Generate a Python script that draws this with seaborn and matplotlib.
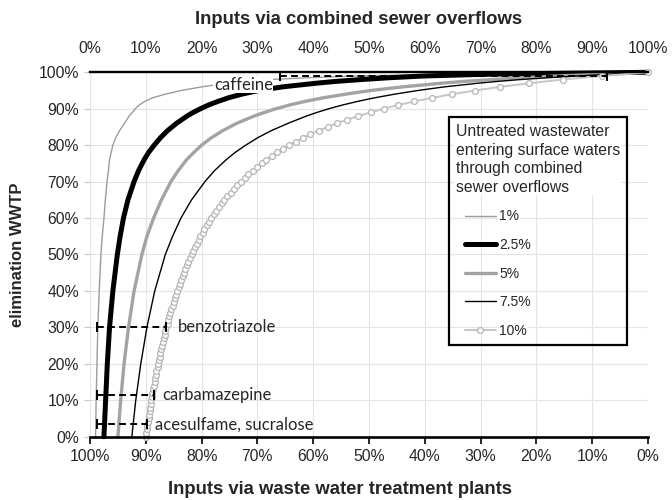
import matplotlib
matplotlib.use("Agg")
import matplotlib.pyplot as plt
from matplotlib.lines import Line2D
from matplotlib.legend_handler import HandlerLine2D
import seaborn as sns
import pandas as pd

# ---------------- data ----------------
# x = share of inputs via combined sewer overflows (%), y = elimination in WWTP (%)
elim_levels = [0, 10, 20, 30, 40, 50, 55, 60, 65, 70, 73, 76, 78, 80, 82, 84, 86, 88, 89, 90,
               91, 92, 93, 94, 95, 96, 97, 97.5, 98, 98.5, 99, 99.5, 100]
cso_1 = [1.0, 1.1, 1.25, 1.4, 1.65, 1.95, 2.2, 2.5, 2.75, 3.05, 3.3, 3.5, 3.8, 4.1, 4.6, 5.3, 6.2, 7.0, 7.6, 8.1,
         8.8, 9.8, 11.2, 13.5, 16.3, 20.0, 24.5, 27.5, 32.0, 39.0, 48.0, 65.0, 100.0]
cso_2_5 = [2.5, 2.8, 3.1, 3.5, 4.1, 4.9, 5.4, 6.0, 6.8, 7.9, 8.7, 9.7, 10.5, 11.5, 12.6, 13.9, 15.5, 17.4, 18.5, 19.8,
           21.2, 22.9, 24.8, 27.2, 30.2, 34.5, 40.5, 44.0, 48.5, 53.5, 60.0, 72.0, 100.0]
cso_5 = [5.0, 5.5, 6.1, 6.9, 7.9, 9.3, 10.2, 11.4, 12.8, 14.5, 15.8, 17.3, 18.6, 20.0, 21.7, 23.8, 26.3, 29.4, 31.3, 33.3,
         35.7, 38.5, 41.8, 45.8, 50.3, 56.0, 63.0, 67.0, 72.0, 77.5, 84.0, 91.5, 100.0]
cso_7_5 = [7.5, 8.2, 9.1, 10.2, 11.6, 13.5, 14.8, 16.3, 18.2, 20.6, 22.3, 24.4, 26.0, 27.9, 30.0, 32.5, 35.5, 38.8, 40.7, 42.8,
           45.2, 47.9, 51.0, 54.6, 58.7, 63.5, 69.5, 73.0, 77.0, 82.0, 87.5, 93.5, 100.0]

elim_10 = [0, 1, 2, 3, 4, 5, 6, 7, 8, 9,
           10, 11, 12, 13, 14, 15, 16, 17, 18, 19,
           20, 21, 22, 23, 24, 25, 26, 27, 28, 29,
           30, 31, 32, 33, 34, 35, 36, 37, 38, 39,
           40, 41, 42, 43, 44, 45, 46, 47, 48, 49,
           50, 51, 52, 53, 54, 55, 56, 57, 58, 59,
           60, 61, 62, 63, 64, 65, 66, 67, 68, 69,
           70, 71, 72, 73, 74, 75, 76, 77, 78, 79,
           80, 81, 82, 83, 84, 85, 86, 87, 88, 89,
           90, 91, 92, 93, 94, 95, 96, 97, 98, 99, 100]
cso_10 = [10.0, 10.1, 10.2, 10.3, 10.4, 10.5, 10.6, 10.7, 10.8, 10.9,
          11.0, 11.1, 11.2, 11.3, 11.4, 11.6, 11.7, 11.8, 11.9, 12.1,
          12.2, 12.3, 12.5, 12.6, 12.8, 12.9, 13.1, 13.2, 13.4, 13.5,
          13.7, 13.9, 14.0, 14.2, 14.4, 14.6, 14.8, 15.0, 15.2, 15.4,
          15.6, 15.9, 16.1, 16.3, 16.6, 16.8, 17.1, 17.3, 17.6, 17.9,
          18.2, 18.5, 18.8, 19.1, 19.5, 19.8, 20.2, 20.5, 20.9, 21.3,
          21.7, 22.2, 22.6, 23.1, 23.6, 24.1, 24.6, 25.2, 25.8, 26.4,
          27.0, 27.7, 28.4, 29.2, 29.9, 30.8, 31.6, 32.6, 33.6, 34.6,
          35.7, 36.9, 38.2, 39.5, 41.0, 42.6, 44.2, 46.1, 48.1, 50.3,
          52.6, 55.2, 58.1, 61.3, 64.9, 69.0, 73.5, 78.7, 84.7, 91.7, 100.0]

series_labels = ["1%", "2.5%", "5%", "7.5%", "10%"]

# compounds: elimination level and range of CSO share
compounds = ["caffeine", "benzotriazole", "carbamazepine", "acesulfame, sucralose"]
compound_elim = [99.1, 30.0, 11.5, 3.4]
compound_lo = [34.0, 1.2, 1.2, 1.2]
compound_hi = [92.6, 13.7, 11.5, 10.3]

ticks = [0, 10, 20, 30, 40, 50, 60, 70, 80, 90, 100]
top_labels = ["0%", "10%", "20%", "30%", "40%", "50%", "60%", "70%", "80%", "90%", "100%"]
bottom_labels = ["100%", "90%", "80%", "70%", "60%", "50%", "40%", "30%", "20%", "10%", "0%"]
y_labels = ["0%", "10%", "20%", "30%", "40%", "50%", "60%", "70%", "80%", "90%", "100%"]

# ---------------- style ----------------
sns.set_theme(style="white")
plt.rcParams["font.family"] = ["Liberation Sans", "DejaVu Sans"]

fig = plt.figure(figsize=(6.72, 5.0), dpi=100)
ax = fig.add_axes([90 / 672, 1 - 436.7 / 500, 558 / 672, 364.4 / 500])

styles = [
    dict(color="#9c9c9c", lw=1.0),
    dict(color="black", lw=3.6),
    dict(color="#a3a3a3", lw=2.4),
    dict(color="black", lw=1.0),
    dict(color="#c6c6c6", lw=1.4, marker="o", ms=4.2, mfc="white", mec="#b5b5b5", mew=0.9),
]
all_elim = [elim_levels, elim_levels, elim_levels, elim_levels, elim_10]
all_cso = [cso_1, cso_2_5, cso_5, cso_7_5, cso_10]

for lab, e, c, kw in zip(series_labels, all_elim, all_cso, styles):
    df = pd.DataFrame({"cso": c, "elim": e})
    sns.lineplot(data=df, x="cso", y="elim", ax=ax, sort=False, estimator=None,
                 label=lab, clip_on=False, solid_joinstyle="round", **kw)

# error bars for compounds
for name, ev, lo, hi in zip(compounds, compound_elim, compound_lo, compound_hi):
    eb = ax.errorbar(x=[(lo + hi) / 2], y=[ev], xerr=[(hi - lo) / 2], fmt="none",
                     ecolor="black", elinewidth=1.4, capsize=3.4, capthick=1.4, zorder=6)
    eb[2][0].set_linestyle((0, (3.5, 2.2)))

ann_font = ["Lato", "DejaVu Sans"]
offsets = [(-5, -6.5), (8, 0), (6, 0), (5.5, 0)]
for i, (name, ev, lo, hi) in enumerate(zip(compounds, compound_elim, compound_lo, compound_hi)):
    if i == 0:
        ax.annotate(name, xy=(lo, ev), xytext=offsets[i], textcoords="offset points",
                    ha="right", va="center", fontsize=12, family=ann_font, zorder=7,
                    bbox=dict(fc="white", ec="none", pad=0.5))
    else:
        ax.annotate(name, xy=(hi, ev), xytext=offsets[i], textcoords="offset points",
                    ha="left", va="center", fontsize=12, family=ann_font, zorder=7)

ax.set_xlim(0, 100)
ax.set_ylim(0, 100)
ax.set_xticks(ticks)
ax.set_xticklabels(bottom_labels)
ax.set_yticks(ticks)
ax.set_yticklabels(y_labels)
ax.set_xlabel("")
ax.set_ylabel("")
ax.grid(True, color="#e4e4e4", lw=0.8)
ax.set_axisbelow(True)

for s in ["left", "right"]:
    ax.spines[s].set_visible(False)
ax.spines["top"].set_color("black")
ax.spines["top"].set_linewidth(1.7)
ax.spines["bottom"].set_color("black")
ax.spines["bottom"].set_linewidth(1.9)

ax.tick_params(axis="x", which="both", bottom=True, length=5, width=1.2, color="black",
               direction="out", pad=4, labelsize=11.3)
ax.tick_params(axis="y", which="both", left=True, length=4, width=0.8, color="#c8c8c8",
               direction="out", pad=4, labelsize=11.3)

sec = ax.secondary_xaxis("top")
sec.set_xticks(ticks)
sec.set_xticklabels(top_labels)
sec.tick_params(length=0, pad=12, labelsize=11.3)
sec.spines["top"].set_visible(False)

# legend
if ax.get_legend() is not None:
    ax.get_legend().remove()
handles, labels = ax.get_legend_handles_labels()
handles = handles[:5]
labels = labels[:5]
leg = ax.legend(handles, labels,
                title="Untreated wastewater\nentering surface waters\nthrough combined\nsewer overflows",
                loc="upper left", bbox_to_anchor=(0.643, 0.877), frameon=True, fancybox=False,
                edgecolor="black", facecolor="none", framealpha=1, fontsize=10, title_fontsize=11.3,
                handlelength=2.9, labelspacing=1.05, borderpad=0.5, alignment="left",
                handletextpad=0.25, borderaxespad=0,
                handler_map={Line2D: HandlerLine2D(xpad=0.65)})
leg.get_frame().set_linewidth(1.6)
leg.set_zorder(8)
for t in leg.get_texts():
    t.set_bbox(dict(fc="white", ec="none", pad=0.5))
leg.get_title().set_bbox(dict(fc="white", ec="none", pad=0.5))
leg.get_title().set_linespacing(1.3)

# titles
fig.text(359 / 672, 1 - 20 / 500, "Inputs via combined sewer overflows", ha="center", va="center",
         fontsize=13.3, fontweight="bold")
fig.text(340 / 672, 1 - 489 / 500, "Inputs via waste water treatment plants", ha="center",
         va="center", fontsize=13.3, fontweight="bold")
fig.text(18 / 672, 1 - 255 / 500, "elimination WWTP", ha="center", va="center", rotation=90,
         fontsize=12, fontweight="bold")

fig.savefig("out.png", dpi=100)
